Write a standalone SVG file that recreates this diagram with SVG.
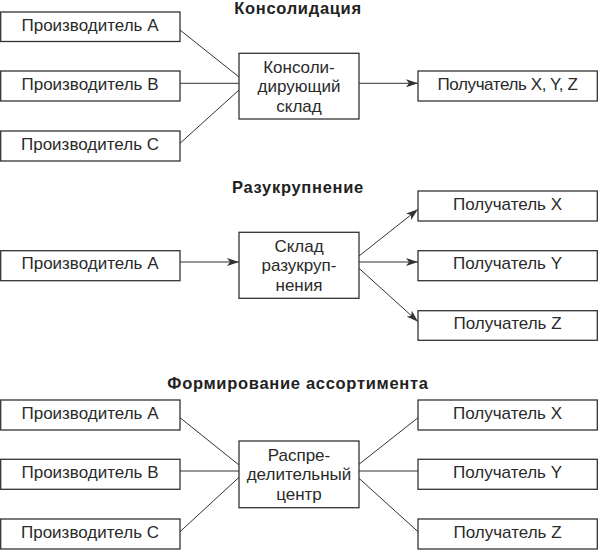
<svg xmlns="http://www.w3.org/2000/svg" width="598" height="550" viewBox="0 0 598 550">
<style>
.box{fill:#fff;stroke:#333;stroke-width:1.3}
.t{font-family:"Liberation Sans",Arial,sans-serif;font-size:17px;fill:#2a2a2a;text-anchor:middle}
.h{font-family:"Liberation Sans",Arial,sans-serif;font-size:16.5px;letter-spacing:0.7px;font-weight:bold;fill:#222;text-anchor:middle}
.ln{stroke:#333;stroke-width:1;fill:none}
.ar{marker-end:url(#arr)}
</style>
<defs>
<marker id="arr" viewBox="0 0 12 8" refX="12" refY="4" markerWidth="12" markerHeight="8" markerUnits="userSpaceOnUse" orient="auto">
<path d="M0,0 L12,4 L0,8 L3,4 Z" fill="#333"/>
</marker>
</defs>
<rect width="598" height="550" fill="#fff"/>
<text class="h" x="298" y="13.5">Консолидация</text>
<text class="h" x="298" y="192.5">Разукрупнение</text>
<text class="h" x="298" y="388.5">Формирование ассортимента</text>
<g id="connectors">
<line class="ln" x1="180" y1="30" x2="239" y2="77"/>
<line class="ln" x1="180" y1="83.3" x2="239" y2="83.3"/>
<line class="ln" x1="180" y1="143.3" x2="239" y2="90"/>
<line class="ln ar" x1="359" y1="83.3" x2="418" y2="83.3"/>
<line class="ln ar" x1="180" y1="262" x2="239" y2="262"/>
<line class="ln ar" x1="359" y1="256" x2="418" y2="209.3"/>
<line class="ln ar" x1="359" y1="262" x2="418" y2="262"/>
<line class="ln ar" x1="359" y1="268.3" x2="418" y2="321.7"/>
<line class="ln" x1="180" y1="417.7" x2="239" y2="465"/>
<line class="ln" x1="180" y1="471" x2="239" y2="471"/>
<line class="ln" x1="180" y1="531.7" x2="239" y2="477.3"/>
<line class="ln" x1="359" y1="464.3" x2="418" y2="417.7"/>
<line class="ln" x1="359" y1="471" x2="418" y2="471"/>
<line class="ln" x1="359" y1="478.3" x2="418" y2="531.7"/>
</g>
<g id="s1-prodA"><rect class="box" x="0.7" y="12" width="179.3" height="29.5"/><text class="t" x="90" y="30.5">Производитель А</text></g>
<g id="s1-prodB"><rect class="box" x="0.7" y="71" width="179.3" height="30"/><text class="t" x="90" y="89.5">Производитель В</text></g>
<g id="s1-prodC"><rect class="box" x="0.7" y="131" width="179.3" height="30"/><text class="t" x="90" y="149.5">Производитель С</text></g>
<g id="s1-center"><rect class="box" x="239" y="53.3" width="120" height="65.7"/><text class="t" x="299" y="72.5">Консоли-</text><text class="t" x="299" y="92">дирующий</text><text class="t" x="299" y="111.5">склад</text></g>
<g id="s1-recv"><rect class="box" x="418" y="71" width="179.3" height="30"/><text class="t" x="507.5" y="89.5" letter-spacing="-0.4">Получатель X, Y, Z</text></g>
<g id="s2-prodA"><rect class="box" x="0.7" y="250.7" width="179.3" height="30"/><text class="t" x="90" y="269.2">Производитель А</text></g>
<g id="s2-center"><rect class="box" x="239" y="232.3" width="120" height="66"/><text class="t" x="299" y="251.7">Склад</text><text class="t" x="299" y="271.2">разукруп-</text><text class="t" x="299" y="290.7">нения</text></g>
<g id="s2-recvX"><rect class="box" x="418" y="191" width="179.3" height="30"/><text class="t" x="507.5" y="209.5">Получатель X</text></g>
<g id="s2-recvY"><rect class="box" x="418" y="250.7" width="179.3" height="30"/><text class="t" x="507.5" y="269.2">Получатель Y</text></g>
<g id="s2-recvZ"><rect class="box" x="418" y="310.7" width="179.3" height="29.6"/><text class="t" x="507.5" y="329">Получатель Z</text></g>
<g id="s3-prodA"><rect class="box" x="0.7" y="400" width="179.3" height="30"/><text class="t" x="90" y="418.5">Производитель А</text></g>
<g id="s3-prodB"><rect class="box" x="0.7" y="459.3" width="179.3" height="30"/><text class="t" x="90" y="477.8">Производитель В</text></g>
<g id="s3-prodC"><rect class="box" x="0.7" y="519" width="179.3" height="30"/><text class="t" x="90" y="537.5">Производитель С</text></g>
<g id="s3-center"><rect class="box" x="239" y="441" width="120" height="66.7"/><text class="t" x="299" y="460.5">Распре-</text><text class="t" x="299" y="480">делительный</text><text class="t" x="299" y="499.5">центр</text></g>
<g id="s3-recvX"><rect class="box" x="418" y="400" width="179.3" height="30"/><text class="t" x="507.5" y="418.5">Получатель X</text></g>
<g id="s3-recvY"><rect class="box" x="418" y="459.3" width="179.3" height="30"/><text class="t" x="507.5" y="477.8">Получатель Y</text></g>
<g id="s3-recvZ"><rect class="box" x="418" y="519" width="179.3" height="30"/><text class="t" x="507.5" y="537.5">Получатель Z</text></g>
</svg>
